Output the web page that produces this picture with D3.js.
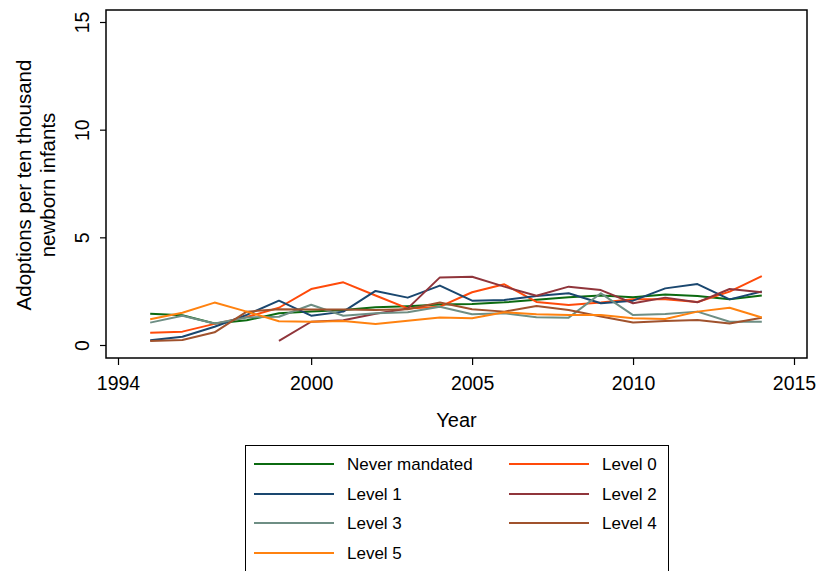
<!DOCTYPE html>
<html>
<head>
<meta charset="utf-8">
<script src="https://cdn.jsdelivr.net/npm/d3@7"></script>
<style>
  body { margin: 0; background: #fff; }
  svg { font-family: "Liberation Sans", Arial, Helvetica, sans-serif; }
</style>
</head>
<body>
<div id="chart"></div>
<script>
var years = [1995,1996,1997,1998,1999,2000,2001,2002,2003,2004,2005,2006,2007,2008,2009,2010,2011,2012,2013,2014]

var neverMandated = [1.45,1.38,1.0,1.15,1.47,1.55,1.62,1.75,1.8,1.88,1.9,1.98,2.1,2.22,2.3,2.22,2.35,2.28,2.12,2.3]
var level0 = [0.57,0.62,0.98,1.3,1.73,2.6,2.91,2.3,1.7,1.78,2.45,2.82,2.0,1.86,1.97,2.12,2.12,2.0,2.48,3.2]
var level1 = [0.22,0.38,0.85,1.4,2.06,1.36,1.55,2.51,2.2,2.76,2.06,2.09,2.28,2.4,1.94,2.06,2.63,2.83,2.12,2.48]
var level2 = [null,null,null,null,0.19,1.08,1.15,1.45,1.7,3.14,3.17,2.71,2.29,2.71,2.55,1.94,2.2,1.98,2.6,2.45]
var level3 = [1.04,1.36,1.0,1.28,1.31,1.87,1.36,1.47,1.52,1.78,1.43,1.47,1.29,1.27,2.4,1.39,1.44,1.55,1.08,1.08]
var level4 = [0.19,0.23,0.59,1.55,1.66,1.65,1.65,1.63,1.66,1.97,1.66,1.55,1.81,1.63,1.32,1.04,1.11,1.16,1.0,1.27]
var level5 = [1.2,1.5,1.97,1.55,1.1,1.08,1.11,0.97,1.13,1.28,1.24,1.52,1.43,1.39,1.39,1.24,1.21,1.55,1.73,1.28]

var seriesNames = ["Never mandated","Level 0","Level 1","Level 2","Level 3","Level 4","Level 5"]
var seriesValues = [neverMandated, level0, level1, level2, level3, level4, level5]
var colors = ["#0b6a10","#ff4a0a","#1a476f","#90353b","#6e8e84","#a0522d","#ff8210"]

var xTicks = [1994,2000,2005,2010,2015]
var yTicks = [0,5,10,15]

var width = 819, height = 571
var box = { left: 106, right: 807, top: 10, bottom: 358 }

var svg = d3.select("#chart").append("svg")
    .attr("width", width)
    .attr("height", height)

var xScale = d3.scaleLinear()
    .domain([1994, 2015])
    .range([118, 794])

var yScale = d3.scaleLinear()
    .domain([0, 15])
    .range([345, 22])

// plot region frame
svg.append("rect")
    .attr("x", box.left)
    .attr("y", box.top)
    .attr("width", box.right - box.left)
    .attr("height", box.bottom - box.top)
    .attr("fill", "none")
    .attr("stroke", "#000")
    .attr("stroke-width", 1.5)

var line = d3.line()
    .defined(function(d){ return d.v != null })
    .x(function(d){ return xScale(d.year) })
    .y(function(d){ return yScale(d.v) })

seriesValues.forEach(function(vals, i){
  var pts = years.map(function(y, j){ return { year: y, v: vals[j] } })
  svg.append("path")
      .datum(pts)
      .attr("fill", "none")
      .attr("stroke", colors[i])
      .attr("stroke-width", 2)
      .attr("stroke-linejoin", "round")
      .attr("d", line)
})

// y axis
var yAxis = svg.append("g")
    .attr("transform", "translate(" + box.left + ",0)")
    .call(d3.axisLeft(yScale).tickValues(yTicks).tickSize(6).tickFormat(d3.format("d")))
yAxis.select(".domain").remove()
yAxis.selectAll("line").attr("stroke", "#000").attr("stroke-width", 1.2)
yAxis.selectAll("text")
    .attr("x", null).attr("dy", null)
    .attr("transform", "translate(-17,0) rotate(-90)")
    .attr("text-anchor", "middle")
    .attr("font-size", 19.5)
    .attr("fill", "#000")
    .attr("font-family", "Liberation Sans, Arial, sans-serif")

// x axis
var xAxis = svg.append("g")
    .attr("transform", "translate(0," + box.bottom + ")")
    .call(d3.axisBottom(xScale).tickValues(xTicks).tickSize(7).tickFormat(d3.format("d")))
xAxis.select(".domain").remove()
xAxis.selectAll("line").attr("stroke", "#000").attr("stroke-width", 1.2)
xAxis.selectAll("text")
    .attr("y", 18)
    .attr("font-size", 19.5)
    .attr("fill", "#000")
    .attr("font-family", "Liberation Sans, Arial, sans-serif")

// axis titles
svg.append("text")
    .attr("transform", "translate(31,185) rotate(-90)")
    .attr("text-anchor", "middle")
    .attr("font-size", 20.5)
    .text("Adoptions per ten thousand")
svg.append("text")
    .attr("transform", "translate(55,185) rotate(-90)")
    .attr("text-anchor", "middle")
    .attr("font-size", 20.5)
    .text("newborn infants")

svg.append("text")
    .attr("x", (box.left + box.right) / 2)
    .attr("y", 427)
    .attr("text-anchor", "middle")
    .attr("font-size", 20)
    .text("Year")

// legend, two columns filled row by row
var legend = svg.append("g")
svg.append("rect")
    .attr("x", 245.5).attr("y", 445.5)
    .attr("width", 423).attr("height", 140)
    .attr("fill", "none")
    .attr("stroke", "#000")
    .attr("stroke-width", 1)

var colX = [254, 509]
var rowY = [464, 494, 523, 553]
seriesNames.forEach(function(name, i){
  var cx = colX[i % 2], ry = rowY[Math.floor(i / 2)]
  var item = legend.append("g")
  item.append("line")
      .attr("x1", cx).attr("x2", cx + 80)
      .attr("y1", ry).attr("y2", ry)
      .attr("stroke", colors[i])
      .attr("stroke-width", 2)
  item.append("text")
      .attr("x", cx + 93)
      .attr("y", ry + 6)
      .attr("font-size", 17)
      .text(name)
})
</script>
</body>
</html>
